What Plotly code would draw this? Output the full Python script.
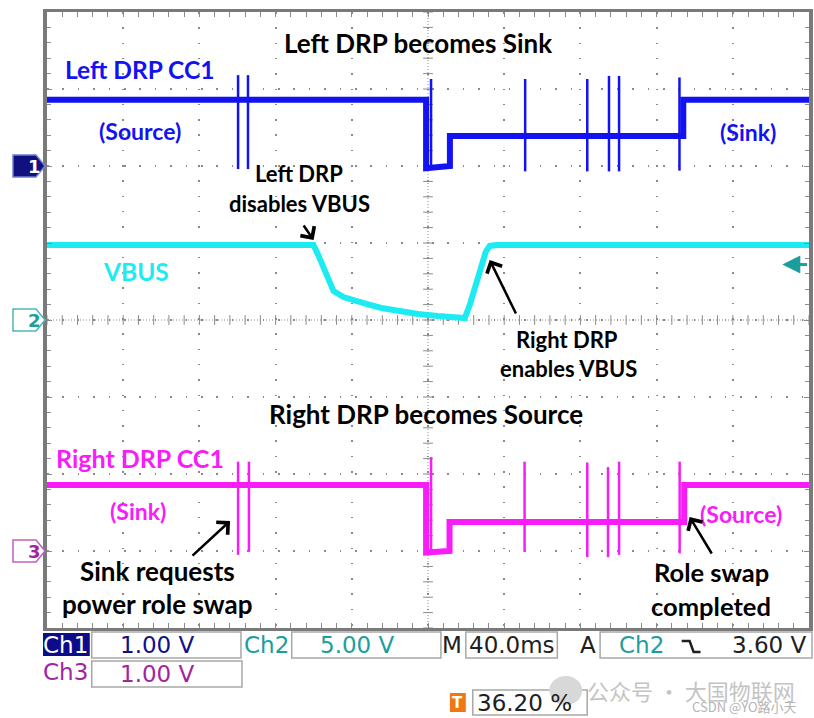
import numpy as np
import plotly.graph_objects as go

# ---------------- data (read from the scope capture) ----------------
# time axis: 40 ms/div, 10 divisions -> 0..400 ms across the screen
# Ch1: Left DRP CC1 (1 V/div), volts
ch1_t = [0, 199.0, 199.0, 211.5, 211.5, 334.0, 334.0, 400]
ch1_v = [0.86, 0.86, -0.03, 0.0, 0.39, 0.39, 0.86, 0.86]
ch1_spike_t = [100.3, 105.5, 201.6, 251.0, 283.6, 295.0, 300.3, 332.0]
ch1_spike_top = [1.18, 1.18, 1.13, 1.13, 1.13, 1.17, 1.17, 1.15]
ch1_spike_bot = [-0.04, -0.04, -0.02, -0.07, -0.07, -0.07, -0.07, -0.06]

# Ch2: VBUS (5 V/div), volts
ch2_t = [0, 139.9, 142.6, 145.2, 147.8, 150.4, 155.6, 159.8, 167.6, 175.5,
         184.3, 194.8, 205.2, 219.3, 221.9, 225.1, 228.2, 230.3, 232.4, 236.6, 400]
ch2_v = [4.87, 4.87, 4.16, 3.38, 2.53, 1.88, 1.49, 1.30, 1.04, 0.78,
         0.58, 0.39, 0.26, 0.13, 0.97, 2.27, 3.57, 4.42, 4.81, 4.87, 4.87]

# Ch3: Right DRP CC1 (1 V/div), volts
ch3_t = [0, 199.0, 199.0, 211.3, 211.3, 334.5, 334.5, 400]
ch3_v = [0.857, 0.857, -0.02, 0.0, 0.377, 0.377, 0.857, 0.857]
ch3_spike_t = [100.3, 106.0, 201.6, 250.7, 283.6, 294.5, 300.3, 332.1]
ch3_spike_top = [1.16, 1.16, 1.22, 1.16, 1.15, 1.09, 1.16, 1.16]
ch3_spike_bot = [-0.05, -0.01, -0.02, -0.01, -0.08, -0.08, -0.05, -0.03]

trigger_level = 3.60  # V on Ch2

# scope settings (status bar)
ch1_scale = "1.00 V"
ch2_scale = "5.00 V"
ch3_scale = "1.00 V"
timebase = "40.0ms"
trig_text = "3.60 V"
trig_pos = "36.20 %"

# ---------------- styling ----------------
C1 = "#1212f2"
C2 = "#1cecf2"
C3 = "#f81cf8"
C2_UI = "#1a9e9e"
C1_UI = "#10108a"
C3_UI = "#a3249f"
GRID = "#8a8a8a"
TXT_FONT = "Lato"
UI_FONT = "DejaVu Sans"

W, H = 814, 718
L, R, T, B = 47, 813, 12, 628  # plot area in pixels


def px(x):
    return (x - L) / (R - L)


def py(y):
    return (B - y) / (B - T)


def spikes(ts, tops, bots):
    xs, ys = [], []
    for t, a, b in zip(ts, tops, bots):
        xs += [t, t, None]
        ys += [b, a, None]
    return xs, ys


fig = go.Figure()

# center crosshair tick marks (graticule)
tick_x = np.arange(0, 400.01, 8)
tick_y = np.arange(-6, 2.01, 0.2)
fig.add_trace(go.Scatter(x=tick_x, y=[-2] * len(tick_x), mode="markers",
                         marker=dict(symbol="line-ns", size=7, line=dict(width=1, color=GRID)),
                         hoverinfo="skip", showlegend=False))
fig.add_trace(go.Scatter(x=[200] * len(tick_y), y=tick_y, mode="markers",
                         marker=dict(symbol="line-ew", size=7, line=dict(width=1, color=GRID)),
                         hoverinfo="skip", showlegend=False))

# Ch2 VBUS
fig.add_trace(go.Scatter(x=ch2_t, y=ch2_v, yaxis="y2", mode="lines",
                         line=dict(color=C2, width=6), showlegend=False, name="VBUS"))
# Ch1
fig.add_trace(go.Scatter(x=ch1_t, y=ch1_v, mode="lines",
                         line=dict(color=C1, width=6), showlegend=False, name="Left DRP CC1"))
sx, sy = spikes(ch1_spike_t, ch1_spike_top, ch1_spike_bot)
fig.add_trace(go.Scatter(x=sx, y=sy, mode="lines", line=dict(color=C1, width=2.5),
                         showlegend=False, connectgaps=False))
# Ch3
fig.add_trace(go.Scatter(x=ch3_t, y=ch3_v, yaxis="y3", mode="lines",
                         line=dict(color=C3, width=6), showlegend=False, name="Right DRP CC1"))
sx, sy = spikes(ch3_spike_t, ch3_spike_top, ch3_spike_bot)
fig.add_trace(go.Scatter(x=sx, y=sy, yaxis="y3", mode="lines", line=dict(color=C3, width=2.5),
                         showlegend=False, connectgaps=False))

ann = []


def text(s, cx, cy, size=21, color="black", family=TXT_FONT, weight=700):
    ann.append(dict(text=s, x=px(cx), y=py(cy), xref="paper", yref="paper",
                    xanchor="center", yanchor="middle", showarrow=False,
                    font=dict(family=family, size=size, color=color, weight=weight)))


def arrow(hx, hy, tx, ty):
    ann.append(dict(text="", x=px(hx), y=py(hy), xref="paper", yref="paper",
                    ax=tx - hx, ay=ty - hy, showarrow=True, arrowhead=4,
                    arrowsize=1.3, arrowwidth=2.5, arrowcolor="black"))


# chart texts
text("Left DRP becomes Sink", 420, 43, size=26)
text("Left DRP CC1", 140, 70, size=24.5, color=C1)
text("(Source)", 140, 131, size=23, color=C1)
text("(Sink)", 752, 132, size=23, color=C1)
text("Left DRP", 300, 173, size=22)
text("disables VBUS", 301, 203, size=22)
arrow(315, 240, 304, 224)
text("VBUS", 136, 271, size=24.5, color=C2)
text("Right DRP", 570, 339, size=22)
text("enables VBUS", 571, 368, size=22)
arrow(492, 260, 519, 315)
text("Right DRP becomes Source", 428, 414, size=26)
text("Right DRP CC1", 140, 458, size=25, color=C3)
text("(Sink)", 138, 511, size=23, color=C3)
text("(Source)", 745, 514, size=23, color=C3)
text("Sink requests", 158, 571, size=26)
text("power role swap", 158, 604, size=26)
arrow(231, 521, 192, 557)
text("Role swap", 715, 572, size=25.5)
text("completed", 714, 606, size=25.5)
arrow(693, 517, 716, 555)

# trigger level arrow on the right (Ch2 axis)
ann.append(dict(text="", x=386, y=trigger_level, xref="x", yref="y2", ax=20, ay=0,
                showarrow=True, arrowhead=2, arrowsize=1.2, arrowwidth=3, arrowcolor=C2_UI))

# channel ground markers
ann.append(dict(text="1", x=px(26), y=0, xref="paper", yref="y", showarrow=False,
                font=dict(family=UI_FONT, size=18, color="white", weight=700)))
ann.append(dict(text="2", x=px(26), y=0, xref="paper", yref="y2", showarrow=False,
                font=dict(family=UI_FONT, size=18, color=C2_UI, weight=700)))
ann.append(dict(text="3", x=px(26), y=0, xref="paper", yref="y3", showarrow=False,
                font=dict(family=UI_FONT, size=18, color=C3_UI, weight=700)))

shapes = []
marker_path = "M-34,-11 L-11,-11 L-2,0 L-11,11 L-34,11 Z"
for yr, fill, edge in [("y", "#10107e", "#6f7fd0"), ("y2", "white", "#4fb8b8"), ("y3", "white", "#c060c0")]:
    shapes.append(dict(type="path", path=marker_path, xref="paper", yref=yr,
                       xsizemode="pixel", ysizemode="pixel", xanchor=0, yanchor=0,
                       fillcolor=fill, line=dict(color=edge, width=1.5), layer="above"))

# stem of the trigger-level arrow
shapes.append(dict(type="line", xref="x", yref="y2", x0=390, x1=399, y0=trigger_level,
                   y1=trigger_level, line=dict(color=C2_UI, width=3), layer="above"))

# center crosshair lines
shapes.append(dict(type="line", xref="x", yref="paper", x0=200, x1=200, y0=0, y1=1,
                   line=dict(color=GRID, width=1, dash="1px,2px"), layer="below"))
shapes.append(dict(type="line", xref="paper", yref="y", x0=0, x1=1, y0=-2, y1=-2,
                   line=dict(color=GRID, width=1, dash="1px,2px"), layer="below"))


def box(x0, y0, x1, y1, fill="white", edge="#a8a8a8", w=1.5):
    shapes.append(dict(type="rect", xref="paper", yref="paper",
                       x0=px(x0), x1=px(x1), y0=py(y1), y1=py(y0),
                       fillcolor=fill, line=dict(color=edge, width=w), layer="above"))


# status bar
box(43, 633, 90, 656, fill="#0c0c8a", edge="#0c0c8a", w=0)
box(92, 632, 242, 658)
box(293, 632, 443, 658)
box(468, 632, 560, 658)
box(603, 632, 816, 658)
box(92, 661, 243, 687)
box(475, 690, 590, 715)
shapes.append(dict(type="rect", xref="paper", yref="paper", x0=px(452), x1=px(468),
                   y0=py(712), y1=py(693), fillcolor="#f07814", line=dict(width=0)))
shapes.append(dict(type="circle", xref="paper", yref="paper", x0=px(552), x1=px(585),
                   y0=py(705), y1=py(676), fillcolor="#d8d8d8", line=dict(width=0)))
# falling-edge trigger slope glyph
edge_pts = [(685, 641), (693, 641), (697, 652), (704, 652)]
shapes.append(dict(type="path", xref="paper", yref="paper",
                   path="M" + " L".join(f"{px(a):.5f},{py(b):.5f}" for a, b in edge_pts),
                   line=dict(color="#202020", width=2.5), layer="above"))

text("Ch1", 66, 645, size=23, color="white", family=UI_FONT, weight=400)
text(ch1_scale, 158, 645, size=23, color=C1_UI, family=UI_FONT, weight=400)
text("Ch2", 268, 645, size=23, color=C2_UI, family=UI_FONT, weight=400)
text(ch2_scale, 359, 645, size=23, color=C2_UI, family=UI_FONT, weight=400)
text("M", 454, 645, size=23, color="#202020", family=UI_FONT, weight=400)
text(timebase, 514, 645, size=23, color="#202020", family=UI_FONT, weight=400)
text("A", 591, 645, size=23, color="#202020", family=UI_FONT, weight=400)
text("Ch2", 645, 645, size=23, color=C2_UI, family=UI_FONT, weight=400)
text(trig_text, 773, 645, size=23, color="#202020", family=UI_FONT, weight=400)
text("Ch3", 66, 672, size=23, color=C3_UI, family=UI_FONT, weight=400)
text(ch3_scale, 158, 674, size=23, color=C3_UI, family=UI_FONT, weight=400)
text("T", 460, 703, size=15, color="white", family=UI_FONT, weight=700)
text(trig_pos, 527, 703, size=23, color="#202020", family=UI_FONT, weight=400)
text("公众号 · 大国物联网", 694, 690, size=22, color="#c4c4c4", family="Noto Sans CJK SC", weight=400)
text("CSDN @YO路小天", 748, 706, size=13, color="#b4b4b4", family="Noto Sans CJK SC", weight=400)

axis_common = dict(showticklabels=False, zeroline=False, fixedrange=True)

fig.update_layout(
    width=W, height=H,
    margin=dict(l=L, r=W - R, t=T, b=H - B),
    paper_bgcolor="white", plot_bgcolor="white",
    showlegend=False,
    xaxis=dict(range=[0, 400], dtick=40, showgrid=True, gridcolor=GRID, gridwidth=1.5,
               griddash="1.5px,13.8px", showline=True, linecolor="#7a7a7a", linewidth=3,
               mirror="allticks", ticks="inside", ticklen=5, tickcolor=GRID,
               minor=dict(dtick=8, ticks="inside", ticklen=4, tickcolor=GRID, showgrid=False),
               **axis_common),
    yaxis=dict(range=[-6, 2], dtick=1, showgrid=True, gridcolor=GRID, gridwidth=1.5,
               griddash="1.5px,13.9px", showline=True, linecolor="#7a7a7a", linewidth=4,
               mirror="allticks", ticks="inside", ticklen=5, tickcolor=GRID,
               minor=dict(dtick=0.2, ticks="inside", ticklen=4, tickcolor=GRID, showgrid=False),
               **axis_common),
    yaxis2=dict(range=[-20, 20], overlaying="y", showgrid=False, showline=False, ticks="",
                **axis_common),
    yaxis3=dict(range=[-1, 7], overlaying="y", showgrid=False, showline=False, ticks="",
                **axis_common),
    annotations=ann,
    shapes=shapes,
)

fig.write_html("out.html", config={"displayModeBar": False},
               post_script="document.body.style.margin='0px';")
